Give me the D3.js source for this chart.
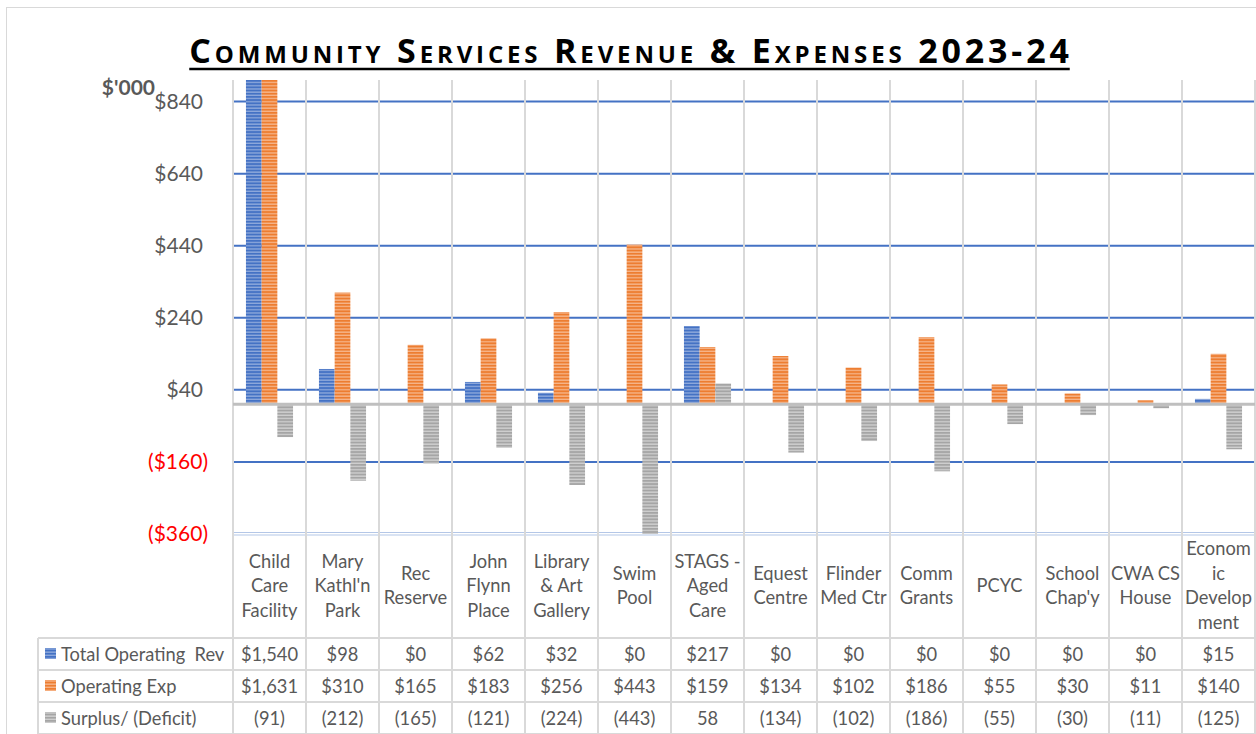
<!DOCTYPE html>
<html>
<head>
<meta charset="utf-8">
<script src="https://cdn.jsdelivr.net/npm/d3@7"></script>
<style>
  body { margin: 0; background: #fff; }
  svg { display: block; }
</style>
</head>
<body>
<svg id="chart" width="1256" height="734"></svg>
<script>
const categories = [
    ["Child", "Care", "Facility"],
    ["Mary", "Kathl'n", "Park"],
    ["Rec", "Reserve"],
    ["John", "Flynn", "Place"],
    ["Library", "& Art", "Gallery"],
    ["Swim", "Pool"],
    ["STAGS -", "Aged", "Care"],
    ["Equest", "Centre"],
    ["Flinder", "Med Ctr"],
    ["Comm", "Grants"],
    ["PCYC"],
    ["School", "Chap'y"],
    ["CWA CS", "House"],
    ["Econom", "ic", "Develop", "ment"]
];
const revenue = [1540, 98, 0, 62, 32, 0, 217, 0, 0, 0, 0, 0, 0, 15];
const expenses = [1631, 310, 165, 183, 256, 443, 159, 134, 102, 186, 55, 30, 11, 140];
const surplus = [-91, -212, -165, -121, -224, -443, 58, -134, -102, -186, -55, -30, -11, -125];
const yTicks = [-360, -160, 40, 240, 440, 640, 840];

const seriesNames = ["Total Operating  Rev", "Operating Exp", "Surplus/ (Deficit)"];
const seriesValues = [revenue, expenses, surplus];
const colors = [
    { dark: "#4472C4", light: "#8FAADC" },
    { dark: "#ED7D31", light: "#F6B68C" },
    { dark: "#A5A5A5", light: "#D0D0D0" }
];

const svg = d3.select("#chart");
const font = "Lato, 'Open Sans', sans-serif";
const textGray = "#595959";
const lineGray = "#D9D9D9";
const tableFont = 18.3;

const margin = { top: 80, left: 233, right: 1255, plotBottom: 534 };
const tableTop = 534, headerH = 104, rowH = 32, legendLeft = 38;

// stripe patterns
const defs = svg.append("defs");
colors.forEach((c, i) => {
    const p = defs.append("pattern")
        .attr("id", "stripe" + i)
        .attr("patternUnits", "userSpaceOnUse")
        .attr("width", 6).attr("height", 3.2);
    p.append("rect").attr("width", 6).attr("height", 3.2).attr("fill", c.dark);
    p.append("rect").attr("y", 1.9).attr("width", 6).attr("height", 1.3).attr("fill", c.light);
});
defs.append("clipPath").attr("id", "plotClip")
    .append("rect")
    .attr("x", margin.left).attr("y", margin.top)
    .attr("width", margin.right - margin.left)
    .attr("height", margin.plotBottom - margin.top);

// outer frame
svg.append("rect")
    .attr("x", 6.5).attr("y", 7.5).attr("width", 1260).attr("height", 740)
    .attr("fill", "none").attr("stroke", lineGray);

const idx = d3.range(categories.length);
const x = d3.scaleBand().domain(idx).range([margin.left, margin.right]).padding(0);
const y = d3.scaleLinear().domain([-360, 900]).range([margin.plotBottom, margin.top]);

const barW = x.bandwidth() / 4.65;
const xInner = d3.scaleBand().domain([0, 1, 2])
    .range([(x.bandwidth() - 3 * barW) / 2, (x.bandwidth() + 3 * barW) / 2]);

// horizontal gridlines
svg.append("g")
    .selectAll("line")
    .data(yTicks.filter(t => t > -360))
    .join("line")
    .attr("x1", margin.left).attr("x2", margin.right)
    .attr("y1", d => y(d)).attr("y2", d => y(d))
    .attr("stroke", "#4472C4").attr("stroke-width", 2);

// bottom of plot (double light line)
svg.append("line")
    .attr("x1", margin.left).attr("x2", margin.right)
    .attr("y1", y(-360) - 1.5).attr("y2", y(-360) - 1.5)
    .attr("stroke", "#B4C7E7").attr("stroke-width", 1.2);
svg.append("line")
    .attr("x1", margin.left).attr("x2", margin.right)
    .attr("y1", y(-360) + 1).attr("y2", y(-360) + 1)
    .attr("stroke", "#B4C7E7").attr("stroke-width", 1.2);

// vertical category separators
svg.append("g")
    .selectAll("line")
    .data(idx.concat([categories.length]))
    .join("line")
    .attr("x1", d => d < categories.length ? x(d) : margin.right)
    .attr("x2", d => d < categories.length ? x(d) : margin.right)
    .attr("y1", margin.top).attr("y2", 734)
    .attr("stroke", lineGray).attr("stroke-width", 2);

// bars
const plot = svg.append("g").attr("clip-path", "url(#plotClip)");
seriesValues.forEach((vals, s) => {
    plot.append("g")
        .selectAll("rect")
        .data(vals)
        .join("rect")
        .attr("x", (d, i) => x(i) + xInner(s))
        .attr("width", barW)
        .attr("y", d => y(Math.max(0, d)))
        .attr("height", d => Math.abs(y(d) - y(0)))
        .attr("fill", `url(#stripe${s})`);
});

// zero line
svg.append("line")
    .attr("x1", margin.left).attr("x2", margin.right)
    .attr("y1", y(0)).attr("y2", y(0))
    .attr("stroke", "#BFBFBF").attr("stroke-width", 3);

// y axis labels (negatives sit a little further right, like the accounting format)
const fmtAxis = v => v < 0 ? `($${Math.abs(v)})` : `$${v}`;
const yAxis = d3.axisLeft(y).tickValues(yTicks).tickSize(0).tickPadding(0).tickFormat(fmtAxis);
svg.append("g")
    .attr("transform", `translate(${margin.left - 30},0)`)
    .call(yAxis)
    .call(g => g.select(".domain").remove())
    .call(g => g.selectAll("text")
        .attr("dx", d => d < 0 ? 5 : 0)
        .attr("font-family", font)
        .attr("font-size", 21)
        .attr("fill", d => d < 0 ? "#FF0000" : textGray));

svg.append("text")
    .attr("x", 155).attr("y", 95)
    .attr("text-anchor", "end")
    .attr("font-family", font).attr("font-weight", "bold")
    .attr("font-size", 21).attr("fill", textGray)
    .text("$'000");

// title
const title = svg.append("text")
    .attr("x", 631).attr("y", 63)
    .attr("text-anchor", "middle")
    .attr("font-family", "'Open Sans', sans-serif")
    .attr("font-weight", "bold")
    .attr("font-size", 34)
    .attr("letter-spacing", 3.85)
    .attr("fill", "#000")
    .style("font-variant", "small-caps")
    .text("Community Services Revenue & Expenses 2023-24");
const tb = title.node().getBBox();
svg.append("line")
    .attr("x1", tb.x).attr("x2", tb.x + tb.width - 3)
    .attr("y1", 69).attr("y2", 69)
    .attr("stroke", "#000").attr("stroke-width", 2.5);

// table header (category names)
const header = svg.append("g");
categories.forEach((lines, i) => {
    const cx = x(i) + x.bandwidth() / 2;
    const lh = 24.5;
    const cy = tableTop + headerH / 2 + 6;
    const t = header.append("text")
        .attr("text-anchor", "middle")
        .attr("font-family", font).attr("font-size", tableFont)
        .attr("fill", textGray);
    lines.forEach((ln, k) => {
        t.append("tspan")
            .attr("x", cx)
            .attr("y", cy + (k - (lines.length - 1) / 2) * lh)
            .text(ln);
    });
});

// table rows
const rowsTop = tableTop + headerH;
const fmtMoney = v => "$" + d3.format(",")(v);
const fmtSurplus = v => v < 0 ? `(${Math.abs(v)})` : `${v}`;
const rowFmt = [fmtMoney, fmtMoney, fmtSurplus];

[0, 1, 2, 3].forEach(r => {
    svg.append("line")
        .attr("x1", legendLeft).attr("x2", margin.right)
        .attr("y1", rowsTop + r * rowH).attr("y2", rowsTop + r * rowH)
        .attr("stroke", lineGray).attr("stroke-width", 2);
});
svg.append("line")
    .attr("x1", legendLeft).attr("x2", legendLeft)
    .attr("y1", rowsTop).attr("y2", 734)
    .attr("stroke", lineGray).attr("stroke-width", 2);

seriesValues.forEach((vals, s) => {
    const ry = rowsTop + s * rowH + rowH / 2;
    svg.append("rect")
        .attr("x", 45).attr("y", ry - 6).attr("width", 11).attr("height", 11)
        .attr("fill", `url(#stripe${s})`);
    svg.append("text")
        .attr("x", 61).attr("y", ry + 6.5)
        .attr("font-family", font).attr("font-size", tableFont)
        .attr("fill", textGray)
        .attr("xml:space", "preserve")
        .style("white-space", "pre")
        .text(seriesNames[s]);
    svg.append("g")
        .selectAll("text")
        .data(vals)
        .join("text")
        .attr("x", (d, i) => x(i) + x.bandwidth() / 2)
        .attr("y", ry + 6.5)
        .attr("text-anchor", "middle")
        .attr("font-family", font).attr("font-size", tableFont)
        .attr("fill", textGray)
        .text(d => rowFmt[s](d));
});
</script>
</body>
</html>
